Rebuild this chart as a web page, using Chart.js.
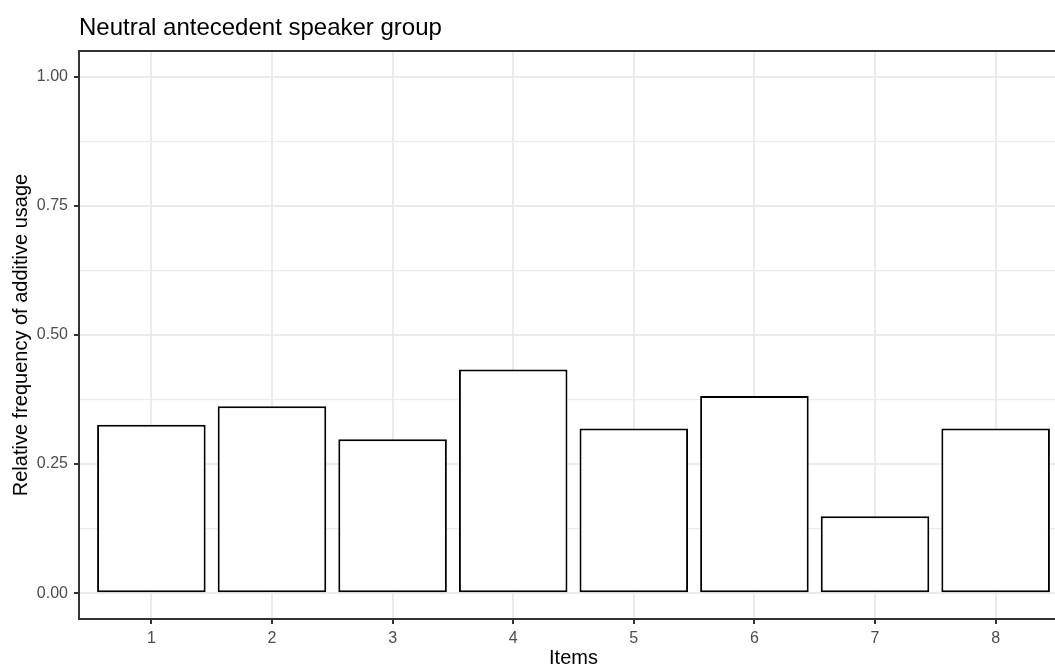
<!DOCTYPE html>
<html>
<head>
<meta charset="utf-8">
<script src="https://cdn.jsdelivr.net/npm/chart.js@4"></script>
<style>
  html, body { margin: 0; padding: 0; background: #fff; overflow: hidden; }
  #wrap { width: 1070px; height: 666px; }
</style>
</head>
<body>
<div id="wrap"><canvas id="items-chart" width="1070" height="666"></canvas></div>
<script>
const chartTitle = 'Neutral antecedent speaker group';
const items = [1, 2, 3, 4, 5, 6, 7, 8];
const relFreq = [0.326, 0.362, 0.298, 0.433, 0.319, 0.382, 0.149, 0.319];
const yMajorTicks = [0, 0.25, 0.5, 0.75, 1];
const yMinorTicks = [0.125, 0.375, 0.625, 0.875];

const fontFamily = '"Liberation Sans", Arial, sans-serif';
const gridColor = '#EBEBEB';
const axisColor = '#333333';

function isMajor(v) {
    return yMajorTicks.some(m => Math.abs(m - v) < 1e-9);
}

// ggplot-ish panel border and plot title
const panelPlugin = {
    id: 'panel',
    afterDatasetsDraw(chart) {
        const a = chart.chartArea;
        const c = chart.ctx;
        c.save();
        c.strokeStyle = axisColor;
        c.lineWidth = 2;
        c.strokeRect(a.left, a.top, a.right - a.left, a.bottom - a.top);
        c.restore();
    },
    afterDraw(chart) {
        const c = chart.ctx;
        c.save();
        c.font = '24px ' + fontFamily;
        c.fillStyle = '#000';
        c.textAlign = 'left';
        c.textBaseline = 'alphabetic';
        c.fillText(chartTitle, chart.chartArea.left, 35);
        c.restore();
    }
};

const ctx = document.getElementById('items-chart').getContext('2d');

const chart = new Chart(ctx, {
    type: 'bar',
    data: {
        datasets: [{
            data: items.map((it, i) => ({ x: it, y: relFreq[i] })),
            backgroundColor: '#ffffff',
            borderColor: '#000000',
            borderWidth: 2,
            borderSkipped: false,
            barPercentage: 0.9,
            categoryPercentage: 1
        }]
    },
    options: {
        responsive: false,
        animation: false,
        devicePixelRatio: 1,
        layout: { padding: { top: 51, right: 2, left: 0, bottom: 0 } },
        plugins: {
            legend: { display: false },
            tooltip: { enabled: false }
        },
        scales: {
            x: {
                type: 'linear',
                offset: false,
                min: 0.4,
                max: 8.6,
                afterBuildTicks(scale) {
                    scale.ticks = items.map(v => ({ value: v }));
                },
                afterFit(scale) { scale.height = 47; },
                ticks: {
                    autoSkip: false,
                    maxRotation: 0,
                    padding: 5,
                    color: '#4D4D4D',
                    font: { family: fontFamily, size: 16 },
                    callback: v => String(v)
                },
                grid: {
                    offset: false,
                    color: gridColor,
                    lineWidth: 2,
                    drawTicks: true,
                    tickLength: 5,
                    tickColor: axisColor,
                    tickWidth: 2
                },
                border: { display: false },
                title: {
                    display: true,
                    text: 'Items',
                    color: '#000',
                    font: { family: fontFamily, size: 20, lineHeight: 0.8 },
                    padding: { top: 0, bottom: 0 }
                }
            },
            y: {
                type: 'linear',
                min: -0.05,
                max: 1.05,
                afterBuildTicks(scale) {
                    scale.ticks = yMajorTicks.concat(yMinorTicks)
                        .sort((a, b) => a - b)
                        .map(v => ({ value: v }));
                },
                afterFit(scale) { scale.width = 79; },
                ticks: {
                    autoSkip: false,
                    padding: 6,
                    color: '#4D4D4D',
                    font: { family: fontFamily, size: 16 },
                    callback: v => isMajor(v) ? v.toFixed(2) : ''
                },
                grid: {
                    color: gridColor,
                    lineWidth: c => isMajor(c.tick.value) ? 2 : 1.2,
                    drawTicks: true,
                    tickLength: 5,
                    tickColor: c => isMajor(c.tick.value) ? axisColor : 'rgba(0,0,0,0)',
                    tickWidth: 2
                },
                border: { display: false },
                title: {
                    display: true,
                    text: 'Relative frequency of additive usage',
                    color: '#000',
                    font: { family: fontFamily, size: 20, lineHeight: 1 },
                    padding: { top: 11, bottom: 0 }
                }
            }
        }
    },
    plugins: [panelPlugin]
});
</script>
</body>
</html>
